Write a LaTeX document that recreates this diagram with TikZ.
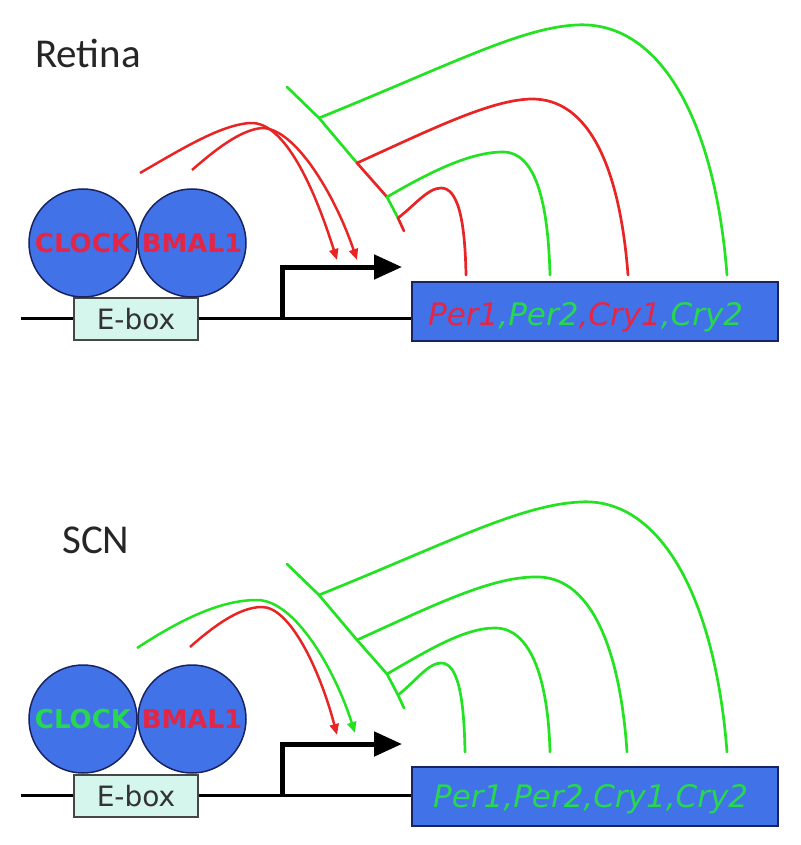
\documentclass[tikz,border=0pt]{standalone}
\usepackage{fontspec}
\setmainfont{DejaVu Sans}
\newfontfamily\calib{Carlito}
\usetikzlibrary{arrows.meta}
\definecolor{cblue}{RGB}{66,114,232}
\definecolor{cnavy}{RGB}{25,35,95}
\definecolor{cred}{RGB}{232,36,36}
\definecolor{cgreen}{RGB}{34,226,34}
\definecolor{tred}{RGB}{228,38,70}
\definecolor{tgreen}{RGB}{40,215,80}
\definecolor{eboxfill}{RGB}{212,246,236}
\definecolor{eboxline}{RGB}{70,70,70}
\tikzset{
 prot/.style={circle, draw=cnavy, line width=1.5pt, fill=cblue, minimum size=108pt, inner sep=0pt, font=\fontsize{26}{26}\selectfont\bfseries},
 eboxnode/.style={rectangle, draw=eboxline, line width=1.5pt, fill=eboxfill, minimum width=124pt, minimum height=42pt, inner sep=0pt, font=\fontsize{28}{28}\selectfont, text=black!80},
 genebox/.style={rectangle, draw=cnavy, line width=2pt, fill=cblue, minimum width=366pt, minimum height=59pt, inner sep=0pt},
 genetext/.style={inner sep=0pt, font=\fontsize{31}{31}\selectfont\itshape},
 titletext/.style={inner sep=0pt, font=\calib\fontsize{41}{41}\selectfont, text=black!85},
 dna/.style={line width=3pt, black},
 promoter/.style={line width=5pt, black, -{Triangle[length=28pt,width=24pt]}},
 act/.style={line width=2.5pt, -{Triangle[length=11pt,width=9pt]}},
 inh/.style={line width=2.7pt, line cap=round},
}
\begin{document}
\begin{tikzpicture}[x=1pt,y=-1pt]
\useasboundingbox (0,0) rectangle (800,845);
% ================= Retina panel =================
\node[titletext, anchor=base west] (t-title) at (35,68) {Retina};
\coordinate (t-dnaL) at (21,318);
\coordinate (t-dnaR) at (413,318);
\draw[dna] (t-dnaL) -- (t-dnaR);
\node[eboxnode] (t-ebox) at (136,319) {E-box};
\node[prot, text=tred] (t-clock) at (83,243) {CLOCK};
\node[prot, text=tred] (t-bmal) at (192,243) {BMAL1};
\node[genebox] (t-gene) at (595,311.5) {};
\node[genetext, anchor=base west] (t-genes) at (428,325)
  {\textcolor{tred}{Per1}\textcolor{tgreen}{,Per2}\textcolor{tred}{,Cry1}\textcolor{tgreen}{,Cry2}};
\coordinate (t-p0) at (282,318);
\coordinate (t-ptip) at (402,267);
\draw[promoter] (t-p0) |- (t-ptip);
% activation arrows
\coordinate (t-a1s) at (140,173);
\coordinate (t-a1e) at (337,260);
\coordinate (t-a2s) at (192,170);
\coordinate (t-a2e) at (357,260);
\draw[act, cred] (t-a1s) .. controls (180,150) and (220,125) .. (250,123)
   .. controls (285,121) and (315,190) .. (t-a1e);
\draw[act, cred] (t-a2s) .. controls (215,150) and (240,130) .. (262,128)
   .. controls (295,128) and (335,195) .. (t-a2e);
% inhibition bar
\coordinate (t-b0) at (287,87);
\coordinate (t-j4) at (319,118);
\coordinate (t-j3) at (357,163);
\coordinate (t-j2) at (387,197);
\coordinate (t-j1) at (398,218);
\coordinate (t-b5) at (404,231);
\draw[inh, cgreen] (t-b0) -- (t-j4) -- (t-j3);
\draw[inh, cred] (t-j3) -- (t-j2);
\draw[inh, cgreen] (t-j2) -- (t-j1);
\draw[inh, cred] (t-j1) -- (t-b5);
% branch ends
\coordinate (t-e1) at (466,275);
\coordinate (t-e2) at (550,275);
\coordinate (t-e3) at (628,275);
\coordinate (t-e4) at (727,275);
\draw[inh, cgreen] (t-j4) .. controls (450,65) and (520,28) .. (576,25)
   .. controls (660,20) and (715,120) .. (t-e4);
\draw[inh, cred] (t-j3) .. controls (430,130) and (490,100) .. (531,99)
   .. controls (590,98) and (620,170) .. (t-e3);
\draw[inh, cgreen] (t-j2) .. controls (430,172) and (470,152) .. (503,152)
   .. controls (535,152) and (548,200) .. (t-e2);
\draw[inh, cred] (t-j1) .. controls (415,205) and (428,188) .. (441,188)
   .. controls (458,188) and (465,220) .. (t-e1);
% ================= SCN panel =================
\node[titletext, anchor=base west] (s-title) at (62,553) {SCN};
\begin{scope}[shift={(0,477)}]
\coordinate (s-dnaL) at (21,318);
\coordinate (s-dnaR) at (413,318);
\draw[dna] (s-dnaL) -- (s-dnaR);
\node[eboxnode] (s-ebox) at (136,319) {E-box};
\node[prot, text=tgreen] (s-clock) at (83,242) {CLOCK};
\node[prot, text=tred] (s-bmal) at (192,242) {BMAL1};
\node[genebox] (s-gene) at (595,319) {};
\node[genetext, anchor=base west, text=tgreen] (s-genes) at (433,330) {Per1,Per2,Cry1,Cry2};
\coordinate (s-p0) at (282,318);
\coordinate (s-ptip) at (402,267);
\draw[promoter] (s-p0) |- (s-ptip);
% activation arrows
\coordinate (s-a1s) at (137,171);
\coordinate (s-a1e) at (355,256);
\coordinate (s-a2s) at (190,170);
\coordinate (s-a2e) at (337,258);
\draw[act, cgreen] (s-a1s) .. controls (180,143) and (220,123) .. (257,123)
   .. controls (295,123) and (335,193) .. (s-a1e);
\draw[act, cred] (s-a2s) .. controls (215,148) and (240,130) .. (262,130)
   .. controls (290,130) and (320,193) .. (s-a2e);
% inhibition bar
\coordinate (s-b0) at (287,87);
\coordinate (s-j4) at (319,118);
\coordinate (s-j3) at (357,163);
\coordinate (s-j2) at (387,197);
\coordinate (s-j1) at (398,218);
\coordinate (s-b5) at (404,231);
\draw[inh, cgreen] (s-b0) -- (s-j4) -- (s-j3) -- (s-j2) -- (s-j1) -- (s-b5);
\coordinate (s-e1) at (465,275);
\coordinate (s-e2) at (550,275);
\coordinate (s-e3) at (627,275);
\coordinate (s-e4) at (727,275);
\draw[inh, cgreen] (s-j4) .. controls (450,65) and (520,28) .. (580,25)
   .. controls (660,20) and (715,120) .. (s-e4);
\draw[inh, cgreen] (s-j3) .. controls (430,130) and (490,100) .. (535,100)
   .. controls (590,98) and (620,170) .. (s-e3);
\draw[inh, cgreen] (s-j2) .. controls (430,172) and (465,151) .. (495,151)
   .. controls (530,151) and (548,200) .. (s-e2);
\draw[inh, cgreen] (s-j1) .. controls (415,205) and (428,186) .. (441,186)
   .. controls (458,186) and (464,220) .. (s-e1);
\end{scope}
\end{tikzpicture}
\end{document}
